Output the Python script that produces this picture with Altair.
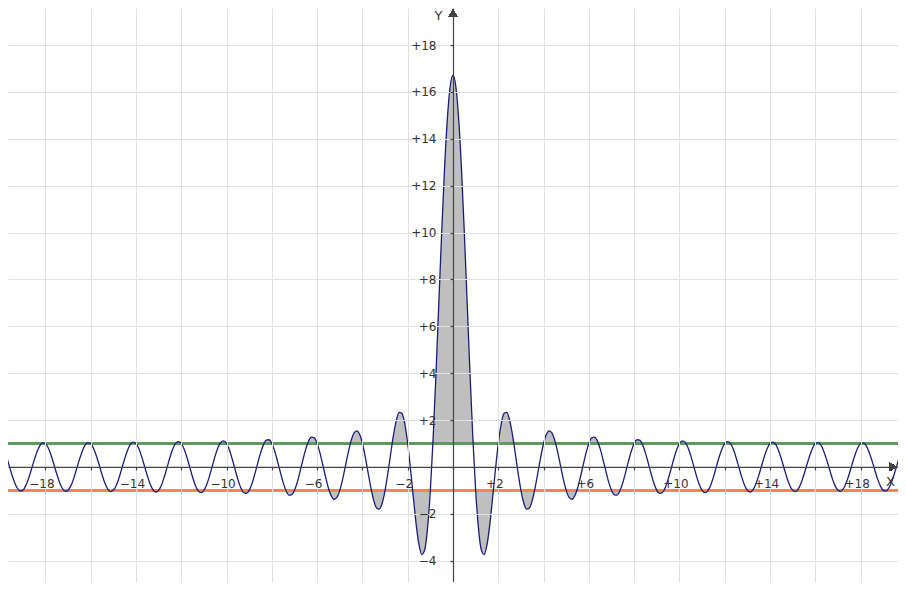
import altair as alt
import pandas as pd

X = [
    -20,
    -19.875, -19.75, -19.625, -19.5, -19.375, -19.25, -19.125, -19,
    -18.875, -18.75, -18.625, -18.5, -18.375, -18.25, -18.125, -18,
    -17.875, -17.75, -17.625, -17.5, -17.375, -17.25, -17.125, -17,
    -16.875, -16.75, -16.625, -16.5, -16.375, -16.25, -16.125, -16,
    -15.875, -15.75, -15.625, -15.5, -15.375, -15.25, -15.125, -15,
    -14.875, -14.75, -14.625, -14.5, -14.375, -14.25, -14.125, -14,
    -13.875, -13.75, -13.625, -13.5, -13.375, -13.25, -13.125, -13,
    -12.875, -12.75, -12.625, -12.5, -12.375, -12.25, -12.125, -12,
    -11.875, -11.75, -11.625, -11.5, -11.375, -11.25, -11.125, -11,
    -10.875, -10.75, -10.625, -10.5, -10.375, -10.25, -10.125, -10,
    -9.875, -9.75, -9.625, -9.5, -9.375, -9.25, -9.125, -9,
    -8.875, -8.75, -8.625, -8.5, -8.375, -8.25, -8.125, -8,
    -7.875, -7.75, -7.625, -7.5, -7.375, -7.25, -7.125, -7,
    -6.875, -6.75, -6.625, -6.5, -6.375, -6.25, -6.125, -6,
    -5.875, -5.75, -5.625, -5.5, -5.375, -5.25, -5.125, -5,
    -4.875, -4.75, -4.625, -4.5, -4.375, -4.25, -4.125, -4,
    -3.875, -3.75, -3.625, -3.5, -3.375, -3.25, -3.125, -3,
    -2.875, -2.75, -2.625, -2.5, -2.375, -2.25, -2.125, -2,
    -1.875, -1.75, -1.625, -1.5, -1.375, -1.25, -1.125, -1,
    -0.875, -0.75, -0.625, -0.5, -0.375, -0.25, -0.125, 0,
    0.125, 0.25, 0.375, 0.5, 0.625, 0.75, 0.875, 1,
    1.125, 1.25, 1.375, 1.5, 1.625, 1.75, 1.875, 2,
    2.125, 2.25, 2.375, 2.5, 2.625, 2.75, 2.875, 3,
    3.125, 3.25, 3.375, 3.5, 3.625, 3.75, 3.875, 4,
    4.125, 4.25, 4.375, 4.5, 4.625, 4.75, 4.875, 5,
    5.125, 5.25, 5.375, 5.5, 5.625, 5.75, 5.875, 6,
    6.125, 6.25, 6.375, 6.5, 6.625, 6.75, 6.875, 7,
    7.125, 7.25, 7.375, 7.5, 7.625, 7.75, 7.875, 8,
    8.125, 8.25, 8.375, 8.5, 8.625, 8.75, 8.875, 9,
    9.125, 9.25, 9.375, 9.5, 9.625, 9.75, 9.875, 10,
    10.125, 10.25, 10.375, 10.5, 10.625, 10.75, 10.875, 11,
    11.125, 11.25, 11.375, 11.5, 11.625, 11.75, 11.875, 12,
    12.125, 12.25, 12.375, 12.5, 12.625, 12.75, 12.875, 13,
    13.125, 13.25, 13.375, 13.5, 13.625, 13.75, 13.875, 14,
    14.125, 14.25, 14.375, 14.5, 14.625, 14.75, 14.875, 15,
    15.125, 15.25, 15.375, 15.5, 15.625, 15.75, 15.875, 16,
    16.125, 16.25, 16.375, 16.5, 16.625, 16.75, 16.875, 17,
    17.125, 17.25, 17.375, 17.5, 17.625, 17.75, 17.875, 18,
    18.125, 18.25, 18.375, 18.5, 18.625, 18.75, 18.875, 19,
    19.125, 19.25, 19.375, 19.5, 19.625, 19.75, 19.875, 20,
]

Y = [
    1.00,
    0.83, 0.53, 0.15, -0.26, -0.62, -0.89, -1.02, -1.00,
    -0.82, -0.52, -0.13, 0.27, 0.63, 0.90, 1.03, 1.00,
    0.82, 0.51, 0.12, -0.29, -0.65, -0.91, -1.04, -1.00,
    -0.81, -0.50, -0.10, 0.30, 0.66, 0.93, 1.04, 1.00,
    0.80, 0.48, 0.09, -0.32, -0.68, -0.94, -1.05, -1.00,
    -0.80, -0.47, -0.07, 0.34, 0.70, 0.96, 1.06, 1.00,
    0.79, 0.45, 0.04, -0.37, -0.73, -0.97, -1.07, -1.00,
    -0.78, -0.43, -0.02, 0.40, 0.76, 1.00, 1.08, 1.00,
    0.76, 0.41, -0.01, -0.43, -0.79, -1.02, -1.10, -1.00,
    -0.75, -0.38, 0.05, 0.48, 0.83, 1.05, 1.11, 1.00,
    0.73, 0.34, -0.10, -0.53, -0.88, -1.09, -1.13, -1.00,
    -0.71, -0.30, 0.15, 0.59, 0.93, 1.14, 1.16, 1.00,
    0.68, 0.25, -0.22, -0.67, -1.01, -1.20, -1.19, -1.00,
    -0.65, -0.18, 0.31, 0.77, 1.11, 1.27, 1.24, 1.00,
    0.60, 0.09, -0.44, -0.91, -1.24, -1.38, -1.30, -1.00,
    -0.53, 0.04, 0.62, 1.11, 1.44, 1.54, 1.39, 1.00,
    0.43, -0.24, -0.89, -1.43, -1.75, -1.80, -1.54, -1.00,
    -0.26, 0.58, 1.38, 2.00, 2.33, 2.28, 1.82, 1.00,
    -0.10, -1.31, -2.46, -3.33, -3.74, -3.54, -2.62, -1.00,
    1.26, 4.01, 7.01, 10.00, 12.70, 14.85, 16.23, 16.71,
    16.23, 14.85, 12.70, 10.00, 7.01, 4.01, 1.26, -1.00,
    -2.62, -3.54, -3.74, -3.33, -2.46, -1.31, -0.10, 1.00,
    1.82, 2.28, 2.33, 2.00, 1.38, 0.58, -0.26, -1.00,
    -1.54, -1.80, -1.75, -1.43, -0.89, -0.24, 0.43, 1.00,
    1.39, 1.54, 1.44, 1.11, 0.62, 0.04, -0.53, -1.00,
    -1.30, -1.38, -1.24, -0.91, -0.44, 0.09, 0.60, 1.00,
    1.24, 1.27, 1.11, 0.77, 0.31, -0.18, -0.65, -1.00,
    -1.19, -1.20, -1.01, -0.67, -0.22, 0.25, 0.68, 1.00,
    1.16, 1.14, 0.93, 0.59, 0.15, -0.30, -0.71, -1.00,
    -1.13, -1.09, -0.88, -0.53, -0.10, 0.34, 0.73, 1.00,
    1.11, 1.05, 0.83, 0.48, 0.05, -0.38, -0.75, -1.00,
    -1.10, -1.02, -0.79, -0.43, -0.01, 0.41, 0.76, 1.00,
    1.08, 1.00, 0.76, 0.40, -0.02, -0.43, -0.78, -1.00,
    -1.07, -0.97, -0.73, -0.37, 0.04, 0.45, 0.79, 1.00,
    1.06, 0.96, 0.70, 0.34, -0.07, -0.47, -0.80, -1.00,
    -1.05, -0.94, -0.68, -0.32, 0.09, 0.48, 0.80, 1.00,
    1.04, 0.93, 0.66, 0.30, -0.10, -0.50, -0.81, -1.00,
    -1.04, -0.91, -0.65, -0.29, 0.12, 0.51, 0.82, 1.00,
    1.03, 0.90, 0.63, 0.27, -0.13, -0.52, -0.82, -1.00,
    -1.02, -0.89, -0.62, -0.26, 0.15, 0.53, 0.83, 1.00,
]

X_TICKS = [-18, -16, -14, -12, -10, -8, -6, -4, -2, 0, 2, 4, 6, 8, 10, 12, 14, 16, 18]
Y_TICKS = [-4, -2, 0, 2, 4, 6, 8, 10, 12, 14, 16, 18]
UPPER_LEVEL = 1
LOWER_LEVEL = -1

df = pd.DataFrame({"x": X, "y": Y})

W, H = 890, 574
X_DOMAIN = [-19.65, 19.65]
Y_DOMAIN = [-4.91, 19.58]
X0_PX = W * (0 - X_DOMAIN[0]) / (X_DOMAIN[1] - X_DOMAIN[0])
Y0_PX = H * (Y_DOMAIN[1] - 0) / (Y_DOMAIN[1] - Y_DOMAIN[0])

FONT = "DejaVu Sans"
AXIS_COLOR = "#444444"
LABEL_COLOR = "#333333"

xs = alt.Scale(domain=X_DOMAIN, nice=False, zero=False)
ys = alt.Scale(domain=Y_DOMAIN, nice=False, zero=False)

x_axis = alt.Axis(
    values=X_TICKS, grid=True, gridColor="#e0e0e0", gridWidth=1,
    offset=-(H - Y0_PX), domainColor=AXIS_COLOR, domainWidth=1.2,
    tickColor=AXIS_COLOR, tickSize=3, tickWidth=1.2,
    labelExpr="datum.value == 0 || abs(datum.value) % 4 == 0 ? '' : (datum.value > 0 ? '+' : '\u2212') + abs(datum.value)",
    labelFont=FONT, labelFontSize=12, labelColor=LABEL_COLOR, labelPadding=9,
    labelOffset=-4, labelOverlap=False, labelFlush=False,
    title="X", titleFont=FONT, titleFontSize=13, titleFontWeight="normal",
    titleColor=LABEL_COLOR, titleX=W - 8, titleY=15, titleAlign="center",
    titleBaseline="middle", zindex=1,
)
y_axis = alt.Axis(
    values=Y_TICKS, grid=True, gridColor="#e0e0e0", gridWidth=1,
    offset=-X0_PX, domainColor=AXIS_COLOR, domainWidth=1.2,
    tickColor=AXIS_COLOR, tickSize=3, tickWidth=1.2,
    labelExpr="datum.value == 0 ? '' : (datum.value > 0 ? '+' : '\u2212') + abs(datum.value)",
    labelFont=FONT, labelFontSize=12, labelColor=LABEL_COLOR, labelPadding=14,
    labelOverlap=False, labelFlush=False,
    title="Y", titleFont=FONT, titleFontSize=13, titleFontWeight="normal",
    titleColor=LABEL_COLOR, titleX=-15, titleY=7, titleAngle=0,
    titleAlign="center", titleBaseline="middle", zindex=1,
)

base = alt.Chart(df)
X_ENC = alt.X("x:Q", scale=xs, axis=x_axis)

upper = base.transform_calculate(yv=f"max(datum.y, {UPPER_LEVEL})").mark_area(
    color="black", opacity=0.25, interpolate="monotone"
).encode(
    x=X_ENC,
    y=alt.Y("yv:Q", scale=ys, axis=y_axis),
    y2=alt.datum(UPPER_LEVEL),
)
lower = base.transform_calculate(yv=f"min(datum.y, {LOWER_LEVEL})").mark_area(
    color="black", opacity=0.25, interpolate="monotone"
).encode(
    x=X_ENC,
    y=alt.Y("yv:Q", scale=ys, axis=y_axis),
    y2=alt.datum(LOWER_LEVEL),
)
green = base.mark_rule(color="#5e995e", strokeWidth=2).encode(
    y=alt.datum(UPPER_LEVEL)
)
orange = base.mark_rule(color="#ff8252", strokeWidth=2).encode(
    y=alt.datum(LOWER_LEVEL)
)
curve = base.mark_line(color="#1c1c78", strokeWidth=1.3, interpolate="monotone").encode(
    x=X_ENC,
    y=alt.Y("y:Q", scale=ys, axis=y_axis),
)
x_arrow = base.mark_point(
    shape="triangle-right", filled=True, size=70, color=AXIS_COLOR, opacity=1
).encode(x=alt.value(W - 5), y=alt.datum(0))
y_arrow = base.mark_point(
    shape="triangle-up", filled=True, size=70, color=AXIS_COLOR, opacity=1
).encode(x=alt.datum(0), y=alt.value(5))

chart = alt.layer(upper, lower, green, orange, curve, x_arrow, y_arrow).properties(
    width=W, height=H, padding=0, background="white",
    autosize=alt.AutoSizeParams(type="none"),
).configure_view(stroke=None)

chart.save("out.html", embed_options={"renderer": "svg", "actions": False})
